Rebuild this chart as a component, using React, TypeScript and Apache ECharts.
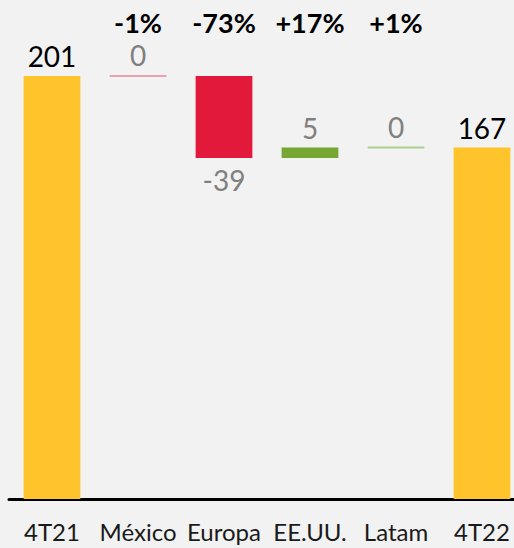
import React, { useEffect, useRef } from "react";
import * as echarts from "echarts";

const categories = ["4T21", "México", "Europa", "EE.UU.", "Latam", "4T22"];
const values = [201, 0, -39, 5, 0, 167];
const isTotal = [true, false, false, false, false, true];
const percentLabels = ["", "-1%", "-73%", "+17%", "+1%", ""];
const barColors = ["#FFC42B", "#EBA1B0", "#E2193A", "#76A633", "#A9D08E", "#FFC42B"];

const FONT = "Lato, 'Open Sans', sans-serif";

export default function App() {
  const ref = useRef<HTMLDivElement>(null);

  useEffect(() => {
    if (!ref.current) return;
    const chart = echarts.init(ref.current, null, { renderer: "svg" });

    // waterfall ranges built from values
    let running = 0;
    const items = values.map((v, i) => {
      let low: number, high: number;
      if (isTotal[i]) {
        low = 0;
        high = v;
        running = v;
      } else {
        const start = running;
        const end = running + v;
        low = Math.min(start, end);
        high = Math.max(start, end);
        running = end;
      }
      return [i, low, high, v];
    });

    const renderItem = (params: any, api: any) => {
      const idx = api.value(0);
      const low = api.value(1);
      const high = api.value(2);
      const v = api.value(3);
      const pTop = api.coord([idx, high]);
      const pBot = api.coord([idx, low]);
      const band = api.size([1, 0])[0];
      const w = band * 0.66;
      const x = pTop[0] - w / 2;
      let h = pBot[1] - pTop[1];
      let y = pTop[1];
      const zero = h < 1.5;
      if (zero) {
        h = 2;
        y = pTop[1] - 1;
      }
      const total = isTotal[idx];
      const children: any[] = [
        {
          type: "rect",
          shape: { x, y, width: w, height: h },
          style: { fill: barColors[idx] },
        },
      ];
      const labelBelow = !total && v < 0;
      children.push({
        type: "text",
        style: {
          text: String(v),
          x: pTop[0],
          y: labelBelow ? pBot[1] + 8 : y - 6,
          align: "center",
          verticalAlign: labelBelow ? "top" : "bottom",
          fontSize: 28,
          fontFamily: FONT,
          fill: total ? "#000000" : "#7F7F7F",
        },
      });
      if (percentLabels[idx]) {
        children.push({
          type: "text",
          style: {
            text: percentLabels[idx],
            x: pTop[0],
            y: 22,
            align: "center",
            verticalAlign: "middle",
            fontSize: 27,
            fontWeight: "bold",
            fontFamily: FONT,
            fill: "#000000",
          },
        });
      }
      return { type: "group", children };
    };

    chart.setOption({
      animation: false,
      backgroundColor: "#F2F2F2",
      grid: { left: 9, top: 76, width: 516, bottom: 49, containLabel: false },
      xAxis: {
        type: "category",
        data: categories,
        axisLine: { show: true, lineStyle: { color: "#000000", width: 3 } },
        axisTick: { show: false },
        axisLabel: {
          color: "#1a1a1a",
          fontSize: 24,
          fontFamily: FONT,
          margin: 20,
          interval: 0,
        },
      },
      yAxis: {
        type: "value",
        min: 0,
        max: 201,
        show: false,
        splitLine: { show: false },
      },
      series: [
        {
          type: "custom",
          renderItem,
          data: items,
          clip: false,
        },
      ],
    });

    return () => chart.dispose();
  }, []);

  return (
    <div
      style={{
        position: "absolute",
        left: 0,
        top: 0,
        width: 514,
        height: 548,
        overflow: "hidden",
        background: "#F2F2F2",
      }}
    >
      <div ref={ref} style={{ width: 530, height: 548 }} />
    </div>
  );
}
